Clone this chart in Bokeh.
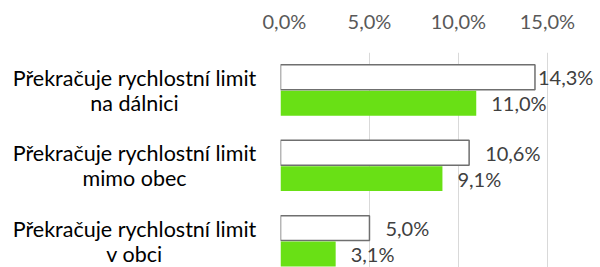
import numpy as np
from bokeh.plotting import figure
from bokeh.layouts import row
from bokeh.models import ColumnDataSource, LabelSet, Range1d, FixedTicker
from bokeh.core.properties import value
from bokeh.embed import file_html
from bokeh.resources import INLINE

categories = [
    "Překračuje rychlostní limit\nna dálnici",
    "Překračuje rychlostní limit\nmimo obec",
    "Překračuje rychlostní limit\nv obci",
]
series_white = [14.3, 10.6, 5.0]
series_green = [11.0, 9.1, 3.1]
tick_values = [0, 5, 10, 15]
tick_labels = ["0,0%", "5,0%", "10,0%", "15,0%"]

FONT = "Lato"
FS = "20px"
CAT_FS = "21.5px"
GREEN = "#69E015"

def fmt(v):
    return f"{v:.1f}".replace(".", ",") + "%"

n = len(categories)
pos = np.arange(n)[::-1]
off = 0.172
bh = 0.33
y_range = Range1d(-0.35, 2.5)

src_w = ColumnDataSource(dict(y=pos + off, v=series_white, t=[fmt(v) for v in series_white],
                              xo=[3 if v == max(series_white) else 16 for v in series_white]))
src_g = ColumnDataSource(dict(y=pos - off, v=series_green, t=[fmt(v) for v in series_green],
                              xo=[15 for v in series_green]))
lines = [c.split("\n") for c in categories]
src_c = ColumnDataSource(dict(y=pos, t1=[l[0] for l in lines], t2=[l[1] for l in lines]))

# left panel with category labels
pl = figure(width=262, frame_height=215, min_border_left=0, min_border_right=0,
            min_border_top=52, min_border_bottom=0,
            x_range=Range1d(0, 262), y_range=y_range,
            x_axis_location=None, y_axis_location=None,
            output_backend="svg", toolbar_location=None)
pl.outline_line_color = None
pl.grid.grid_line_color = None
for col, yo in (("t1", -12.5), ("t2", 12.5)):
    pl.text(x=134, y="y", text=col, source=src_c, y_offset=yo,
            text_align="center", text_baseline="middle",
            text_font=value(FONT), text_font_size=value(CAT_FS), text_color="#000000")

p = figure(frame_width=318, frame_height=215, min_border_left=18, min_border_right=0,
           min_border_top=52, min_border_bottom=0,
           x_range=Range1d(0, 17.87), y_range=y_range,
           x_axis_location="above", y_axis_location=None,
           output_backend="svg", toolbar_location=None)
p.outline_line_color = None
p.background_fill_color = "white"
p.border_fill_color = "white"

p.xaxis.ticker = FixedTicker(ticks=tick_values)
p.xaxis.major_label_overrides = {t: l for t, l in zip(tick_values, tick_labels)}
p.xaxis.axis_line_color = None
p.xaxis.major_tick_line_color = None
p.xaxis.minor_tick_line_color = None
p.xaxis.major_label_text_font = FONT
p.xaxis.major_label_text_font_size = FS
p.xaxis.major_label_text_color = "#595959"
p.xaxis.major_label_standoff = 14

p.xgrid.grid_line_color = "#d9d9d9"
p.xgrid.grid_line_width = 1
p.ygrid.grid_line_color = None

p.hbar(y="y", right="v", left=0, height=bh, source=src_w,
       fill_color="white", line_color="#6f6f6f", line_width=1.5)
p.hbar(y="y", right="v", left=0, height=bh, source=src_g,
       fill_color=GREEN, line_color=None)

for s in (src_w, src_g):
    p.add_layout(LabelSet(x="v", y="y", text="t", source=s, x_offset="xo",
                          text_align="left", text_baseline="middle",
                          text_font=value(FONT), text_font_size=value(FS), text_color="#404040"))

layout = row(pl, p, spacing=0)
open("out.html", "w").write(file_html(layout, INLINE))
